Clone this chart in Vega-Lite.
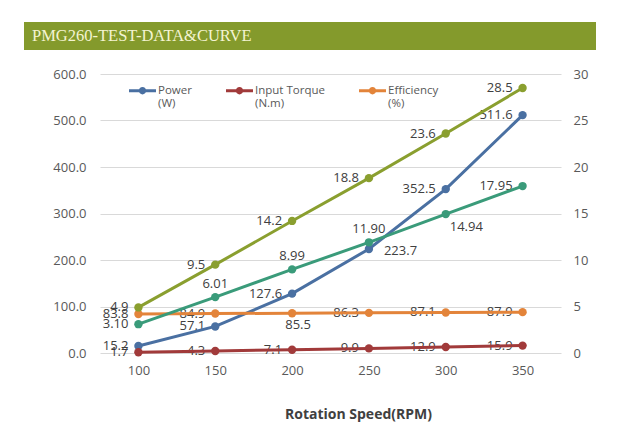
{
  "$schema": "https://vega.github.io/schema/vega-lite/v6.json",
  "padding": {"left": 24, "top": 22, "right": 5, "bottom": 5},
  "background": "white",
  "config": {"view": {"stroke": null}, "font": "Open Sans"},
  "datasets": {
    "curve": [
      {"rpm": 100, "series": "Power", "value": 15.2},
      {"rpm": 150, "series": "Power", "value": 57.1},
      {"rpm": 200, "series": "Power", "value": 127.6},
      {"rpm": 250, "series": "Power", "value": 223.7},
      {"rpm": 300, "series": "Power", "value": 352.5},
      {"rpm": 350, "series": "Power", "value": 511.6},
      {"rpm": 100, "series": "Input Torque", "value": 1.7},
      {"rpm": 150, "series": "Input Torque", "value": 4.3},
      {"rpm": 200, "series": "Input Torque", "value": 7.1},
      {"rpm": 250, "series": "Input Torque", "value": 9.9},
      {"rpm": 300, "series": "Input Torque", "value": 12.9},
      {"rpm": 350, "series": "Input Torque", "value": 15.9},
      {"rpm": 100, "series": "Efficiency", "value": 83.8},
      {"rpm": 150, "series": "Efficiency", "value": 84.9},
      {"rpm": 200, "series": "Efficiency", "value": 85.5},
      {"rpm": 250, "series": "Efficiency", "value": 86.3},
      {"rpm": 300, "series": "Efficiency", "value": 87.1},
      {"rpm": 350, "series": "Efficiency", "value": 87.9},
      {"rpm": 100, "series": "Series 4", "value": 4.9},
      {"rpm": 150, "series": "Series 4", "value": 9.5},
      {"rpm": 200, "series": "Series 4", "value": 14.2},
      {"rpm": 250, "series": "Series 4", "value": 18.8},
      {"rpm": 300, "series": "Series 4", "value": 23.6},
      {"rpm": 350, "series": "Series 4", "value": 28.5},
      {"rpm": 100, "series": "Series 5", "value": 3.10},
      {"rpm": 150, "series": "Series 5", "value": 6.01},
      {"rpm": 200, "series": "Series 5", "value": 8.99},
      {"rpm": 250, "series": "Series 5", "value": 11.90},
      {"rpm": 300, "series": "Series 5", "value": 14.94},
      {"rpm": 350, "series": "Series 5", "value": 17.95}
    ]
  },
  "spacing": 18,
  "vconcat": [
    {
      "width": 572,
      "height": 28,
      "view": {"fill": "#849a2c", "stroke": null},
      "title": {
        "text": "PMG260-TEST-DATA&CURVE",
        "anchor": "start",
        "frame": "group",
        "orient": "top",
        "offset": -22,
        "dx": 8,
        "font": "Liberation Serif",
        "fontSize": 16.5,
        "fontWeight": "normal",
        "color": "#f4f4d2"
      },
      "data": {"values": [{"t": ""}]},
      "mark": {"type": "text"},
      "encoding": {"text": {"field": "t"}}
    },
    {
      "spacing": 27,
      "hconcat": [
        {
          "width": 1,
          "height": 279,
          "data": {"values": [{"t": ""}]},
          "mark": {"type": "text"},
          "encoding": {"text": {"field": "t"}}
        },
        {
          "width": 461,
          "height": 279,
          "data": {"name": "curve"},
          "layer": [
            {
              "transform": [{"filter": {"field": "series", "oneOf": ["Power", "Input Torque", "Efficiency"]}}],
              "encoding": {
                "x": {
                  "field": "rpm", "type": "ordinal",
                  "scale": {"type": "point", "padding": 0.5},
                  "axis": {"labelAngle": 0, "domain": false, "ticks": false, "grid": false, "labelPadding": 11, "labelFontSize": 13, "labelColor": "#595959", "title": "Rotation Speed(RPM)", "titleFontSize": 14, "titleFontWeight": "bold", "titleColor": "#404040", "titleX": 258, "titlePadding": 30}
                },
                "y": {
                  "field": "value", "type": "quantitative",
                  "scale": {"domain": [0, 600], "nice": false},
                  "axis": {"orient": "left", "format": ".1f", "values": [0, 100, 200, 300, 400, 500, 600], "grid": true, "gridColor": "#d9d9d9", "domain": false, "ticks": false, "labelPadding": 14, "labelFontSize": 13, "labelColor": "#595959", "title": null}
                }
              },
              "layer": [
                {
                  "mark": {"type": "text", "align": "right", "baseline": "middle", "dx": -10, "fontSize": 13, "color": "#404040"},
                  "transform": [{"filter": "!(datum.series == 'Power' && datum.rpm == 250) && !(datum.series == 'Efficiency' && datum.rpm == 200)"}],
                  "encoding": {"text": {"field": "value", "type": "quantitative", "format": ".1f"}}
                },
                {
                  "mark": {"type": "text", "align": "left", "baseline": "middle", "dx": 15, "dy": 2, "fontSize": 13, "color": "#404040"},
                  "transform": [{"filter": "datum.series == 'Power' && datum.rpm == 250"}],
                  "encoding": {"text": {"field": "value", "type": "quantitative", "format": ".1f"}}
                },
                {
                  "mark": {"type": "text", "align": "center", "baseline": "middle", "dx": 6, "dy": 12, "fontSize": 13, "color": "#404040"},
                  "transform": [{"filter": "datum.series == 'Efficiency' && datum.rpm == 200"}],
                  "encoding": {"text": {"field": "value", "type": "quantitative", "format": ".1f"}}
                },
                {
                  "mark": {"type": "line", "strokeWidth": 3},
                  "encoding": {
                    "color": {
                      "field": "series", "type": "nominal",
                      "scale": {"domain": ["Power", "Input Torque", "Efficiency"], "range": ["#4a70a2", "#a13a3a", "#e3843a"]},
                      "legend": {
                        "orient": "none", "legendX": 29, "legendY": 3, "direction": "horizontal", "title": null,
                        "symbolType": "M-1,-0.11H1V0.11H-1Z M-0.27,0A0.27,0.27 0 1,1 0.27,0A0.27,0.27 0 1,1 -0.27,0Z",
                        "symbolSize": 729, "symbolStrokeWidth": 0,
                        "labelFontSize": 11.5, "labelColor": "#595959", "labelOffset": 2, "columnPadding": 34,
                        "labelExpr": "datum.label == 'Power' ? ['Power', '(W)'] : datum.label == 'Input Torque' ? ['Input Torque', '(N.m)'] : ['Efficiency', '(%)']",
                        "encode": {"symbols": {"update": {"fill": {"signal": "datum.value === 'Power' ? '#4a70a2' : datum.value === 'Input Torque' ? '#a13a3a' : '#e3843a'"}, "stroke": {"value": "transparent"}, "strokeWidth": {"value": 0}, "opacity": {"value": 1}}}}
                      }
                    }
                  }
                },
                {
                  "mark": {"type": "point", "filled": true, "size": 70, "opacity": 1},
                  "encoding": {"color": {"field": "series", "type": "nominal", "legend": null}}
                }
              ]
            },
            {
              "transform": [{"filter": {"field": "series", "oneOf": ["Series 4", "Series 5"]}}],
              "encoding": {
                "x": {"field": "rpm", "type": "ordinal", "scale": {"type": "point", "padding": 0.5}},
                "y": {
                  "field": "value", "type": "quantitative",
                  "scale": {"domain": [0, 30], "nice": false},
                  "axis": {"orient": "right", "format": "d", "values": [0, 5, 10, 15, 20, 25, 30], "grid": false, "domain": false, "ticks": false, "labelPadding": 12, "labelFontSize": 13, "labelColor": "#595959", "title": null}
                }
              },
              "layer": [
                {
                  "mark": {"type": "text", "align": "right", "baseline": "middle", "dx": -10, "fontSize": 13, "color": "#404040"},
                  "transform": [{"filter": "datum.series == 'Series 4'"}],
                  "encoding": {"text": {"field": "value", "type": "quantitative", "format": ".1f"}}
                },
                {
                  "mark": {"type": "text", "align": "right", "baseline": "middle", "dx": -10, "fontSize": 13, "color": "#404040"},
                  "transform": [{"filter": "datum.series == 'Series 5' && (datum.rpm == 100 || datum.rpm == 350)"}],
                  "encoding": {"text": {"field": "value", "type": "quantitative", "format": ".2f"}}
                },
                {
                  "mark": {"type": "text", "align": "center", "baseline": "middle", "dy": -13, "fontSize": 13, "color": "#404040"},
                  "transform": [{"filter": "datum.series == 'Series 5' && (datum.rpm == 150 || datum.rpm == 200 || datum.rpm == 250)"}],
                  "encoding": {"text": {"field": "value", "type": "quantitative", "format": ".2f"}}
                },
                {
                  "mark": {"type": "text", "align": "left", "baseline": "middle", "dx": 4, "dy": 13, "fontSize": 13, "color": "#404040"},
                  "transform": [{"filter": "datum.series == 'Series 5' && datum.rpm == 300"}],
                  "encoding": {"text": {"field": "value", "type": "quantitative", "format": ".2f"}}
                },
                {
                  "mark": {"type": "line", "strokeWidth": 3},
                  "encoding": {
                    "color": {"field": "series", "type": "nominal", "scale": {"domain": ["Series 4", "Series 5"], "range": ["#8a9f2f", "#3a9b7a"]}, "legend": null}
                  }
                },
                {
                  "mark": {"type": "point", "filled": true, "size": 70, "opacity": 1},
                  "encoding": {"color": {"field": "series", "type": "nominal", "legend": null}}
                }
              ]
            }
          ],
          "resolve": {"scale": {"y": "independent", "color": "independent"}}
        }
      ]
    }
  ]
}
